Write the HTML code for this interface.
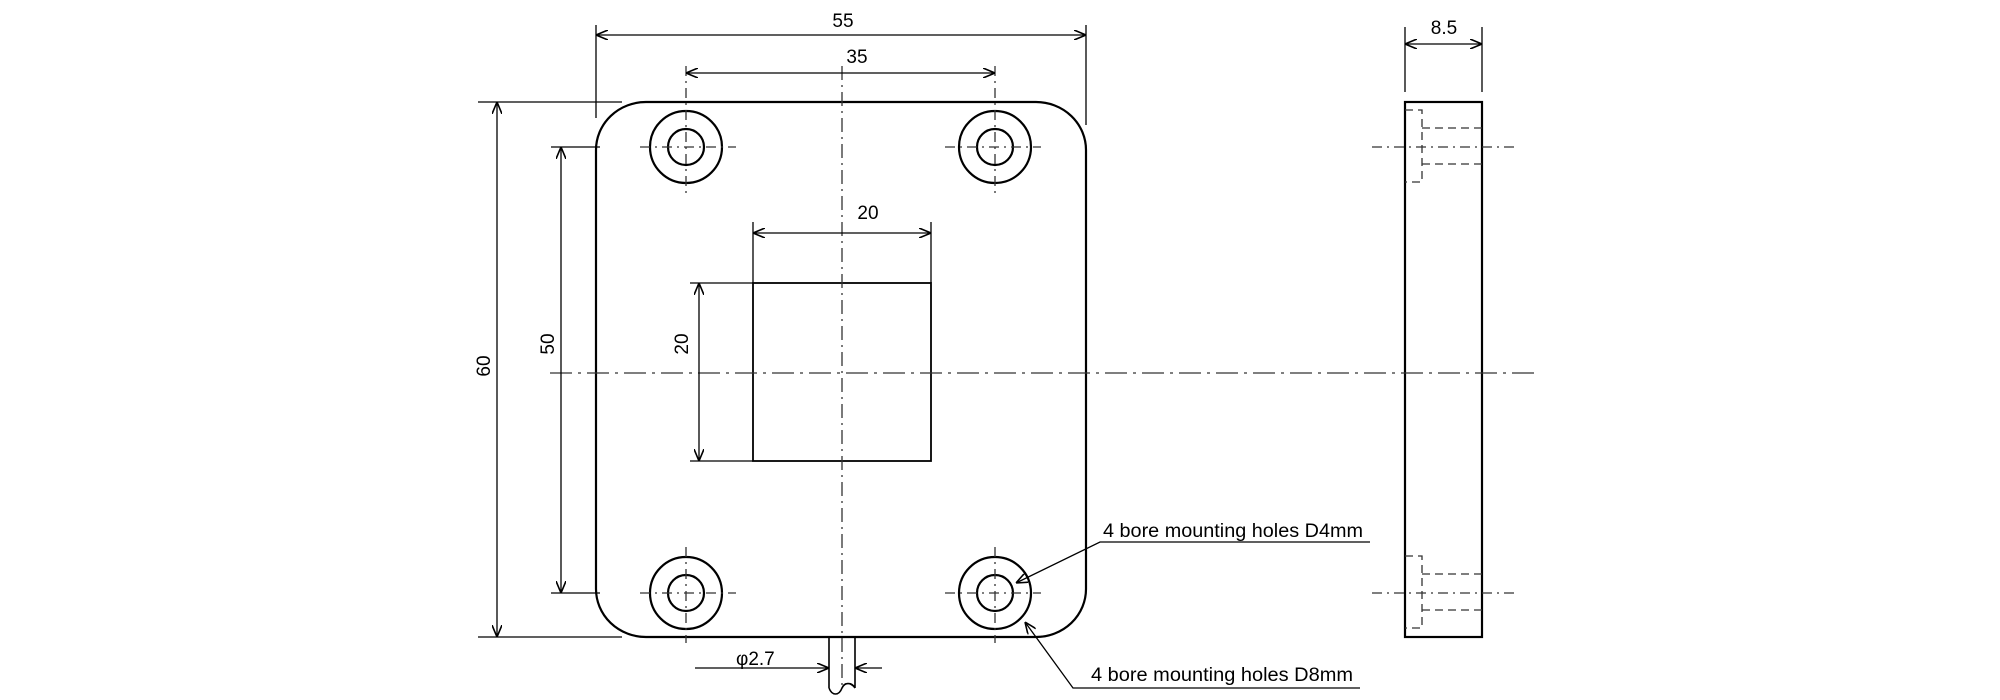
<!DOCTYPE html>
<html><head><meta charset="utf-8"><style>html,body{margin:0;padding:0;background:#fff}svg{display:block}</style></head><body>
<svg width="2000" height="700" viewBox="0 0 2000 700" xmlns="http://www.w3.org/2000/svg" font-family="Liberation Sans, sans-serif" font-size="19" fill="none" stroke="#000">
<defs>
<marker id="a" viewBox="0 0 12 10" refX="12" refY="5" markerWidth="12" markerHeight="10" orient="auto-start-reverse" markerUnits="userSpaceOnUse"><path d="M0,0 L12,5 L0,10" stroke="#000" stroke-width="1.6" fill="none"/></marker>
</defs>
<g stroke-width="2.2">
<rect x="596" y="102" width="490" height="535" rx="50" ry="48"/>
<rect x="753" y="283" width="178" height="178" stroke-width="1.8"/>
<circle cx="686" cy="147" r="36"/><circle cx="686" cy="147" r="18"/>
<circle cx="995" cy="147" r="36"/><circle cx="995" cy="147" r="18"/>
<circle cx="686" cy="593" r="36"/><circle cx="686" cy="593" r="18"/>
<circle cx="995" cy="593" r="36"/><circle cx="995" cy="593" r="18"/>
<rect x="1405" y="102" width="77" height="535"/>
</g>
<g stroke-width="1.3" stroke="#333">
<!-- centerlines -->
<path d="M842 66V690" stroke-dasharray="14,5,2,5"/>
<path d="M550 373H1536" stroke-dasharray="22,6,3,6"/>
<path d="M686 66V197M995 66V197M686 547V643M995 547V643" stroke-dasharray="10,5,2,5"/>
<path d="M640 147H736M945 147H1041M640 593H736M945 593H1041" stroke-dasharray="10,5,2,5"/>
<path d="M1372 147H1515M1372 593H1515" stroke-dasharray="10,5,2,5"/>
<!-- hidden lines side -->
<path d="M1405 110H1422V182H1405M1422 128H1482M1422 164H1482M1405 556H1422V628H1405M1422 574H1482M1422 610H1482" stroke-dasharray="8,5"/>
</g>
<g stroke-width="1.3">
<!-- extension lines -->
<path d="M596 25V118M1086 25V125M753 222V283M931 222V283M690 283H753M690 461H753M478 102H622M478 637H622M551 147H600M551 593H600M1405 27V92M1482 27V92"/>
<!-- dims -->
<path d="M596 35H1086" marker-start="url(#a)" marker-end="url(#a)"/>
<path d="M686 73H995" marker-start="url(#a)" marker-end="url(#a)"/>
<path d="M753 233H931" marker-start="url(#a)" marker-end="url(#a)"/>
<path d="M699 283V461" marker-start="url(#a)" marker-end="url(#a)"/>
<path d="M561 147V593" marker-start="url(#a)" marker-end="url(#a)"/>
<path d="M497 102V637" marker-start="url(#a)" marker-end="url(#a)"/>
<path d="M1405 44H1482" marker-start="url(#a)" marker-end="url(#a)"/>
<path d="M695 668H829" marker-end="url(#a)"/>
<path d="M882 668H855" marker-end="url(#a)"/>
<!-- shaft -->
<path d="M829 637V688M855 637V688M829 688c3 8 10 8 13 0c3 -6 10 -6 13 0" stroke-width="1.6"/>
<path d="M842 688c2 -6 8 -6 13 0" stroke-width="1.2"/>
<!-- leaders -->
<path d="M1370 542H1100L1016 583" marker-end="url(#a)"/>
<path d="M1360 688H1073L1025 622" marker-end="url(#a)"/>
</g>
<g fill="#000" stroke="none">
<text x="843" y="27" text-anchor="middle">55</text>
<text x="857" y="63" text-anchor="middle">35</text>
<text x="868" y="219" text-anchor="middle">20</text>
<text x="1444" y="34" text-anchor="middle">8.5</text>
<text transform="translate(688,344) rotate(-90)" text-anchor="middle">20</text>
<text transform="translate(554,344) rotate(-90)" text-anchor="middle">50</text>
<text transform="translate(490,366) rotate(-90)" text-anchor="middle">60</text>
<text x="736" y="665">φ2.7</text>
<text x="1103" y="537" textLength="260" lengthAdjust="spacingAndGlyphs">4 bore mounting holes D4mm</text>
<text x="1091" y="681" textLength="262" lengthAdjust="spacingAndGlyphs">4 bore mounting holes D8mm</text>
</g>
</svg>
</body></html>
